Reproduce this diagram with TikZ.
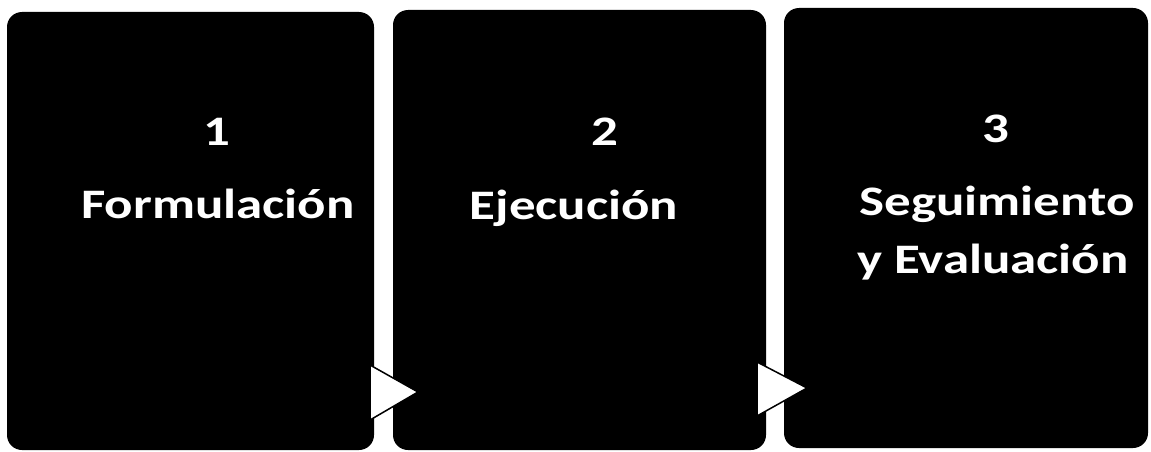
\documentclass[tikz,border=0pt]{standalone}
\usepackage{fontspec}
\newfontfamily\boxfont{Carlito}[FakeStretch=1.26]

\begin{document}
\begin{tikzpicture}[x=1pt, y=-1pt,
  box/.style={fill=black, rounded corners=15pt, inner sep=0pt},
  lbl/.style={text=white, anchor=base, inner sep=0pt,
    font=\boxfont\bfseries\fontsize{42}{50}\selectfont},
  tri/.style={fill=white, draw=black, line width=1.5pt}]
  \useasboundingbox (0,0) rectangle (1151,452);

  \node[box, minimum width=367pt, minimum height=438pt] (b1) at (190.5,231) {};
  \node[box, minimum width=373pt, minimum height=440pt] (b2) at (579.5,230) {};
  \node[box, minimum width=364pt, minimum height=440pt] (b3) at (966,228) {};

  \filldraw[tri] (370,365) -- (418,392) -- (370,420) -- cycle;
  \filldraw[tri] (757,362) -- (807,388) -- (757,416) -- cycle;

  \node[lbl] (n1) at (217,145) {1};
  \node[lbl] (f) at (218,218) {Formulación};

  \node[lbl] (n2) at (605,145) {2};
  \node[lbl] (e) at (574,219) {Ejecución};

  \node[lbl] (n3) at (996,142) {3};
  \node[lbl] (s) at (997,215) {Seguimiento};
  \node[lbl] (y) at (993,273) {y Evaluación};
\end{tikzpicture}
\end{document}
